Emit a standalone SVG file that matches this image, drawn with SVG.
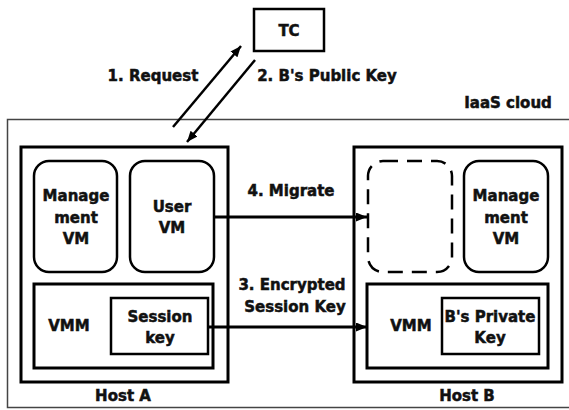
<svg xmlns="http://www.w3.org/2000/svg" width="569" height="410" viewBox="0 0 569 410">
<defs>
<marker id="ah" markerUnits="userSpaceOnUse" markerWidth="12" markerHeight="10" refX="11" refY="4.5" orient="auto">
<path d="M0,0 L11,4.5 L0,9 z" fill="#000"/>
</marker>
<style>
text{font-family:"DejaVu Sans","Liberation Sans",sans-serif;font-weight:bold;font-size:15px;fill:#111;stroke:#111;stroke-width:0.5;text-anchor:middle}
.box{fill:#fff;stroke:#000;stroke-width:3}
.thin{fill:#fff;stroke:#000;stroke-width:2.5}
.vm{fill:#fff;stroke:#000;stroke-width:2.5}
.dash{fill:none;stroke:#000;stroke-width:2.5;stroke-dasharray:15 9}
.conn{stroke:#000;stroke-width:3;fill:none;marker-end:url(#ah)}
.cn{stroke:#000;stroke-width:2.5;fill:none;marker-end:url(#ah)}
</style>
</defs>
<rect width="569" height="410" fill="#fff"/>
<g id="cloud">
<rect x="7.5" y="119.5" width="575" height="288" fill="none" stroke="#444" stroke-width="1.5"/>
<text x="508" y="108">IaaS cloud</text>
</g>
<g id="tc">
<rect x="254" y="9" width="70" height="42" class="thin"/>
<text x="289" y="36">TC</text>
</g>
<g id="hostA">
<rect x="21" y="147" width="207" height="235" class="box"/>
<text x="123" y="401">Host A</text>
</g>
<g id="mgmtA">
<rect x="34" y="161" width="83" height="111" rx="15" class="vm"/>
<text x="76" y="201">Manage</text>
<text x="76" y="223">ment</text>
<text x="76" y="244">VM</text>
</g>
<g id="userVM">
<rect x="130" y="161" width="84" height="111" rx="15" class="vm"/>
<text x="172" y="212">User</text>
<text x="172" y="233">VM</text>
</g>
<g id="vmmA">
<rect x="34" y="284" width="179" height="84" class="box"/>
<text x="69" y="331">VMM</text>
</g>
<g id="sessionKey">
<rect x="111" y="298" width="97" height="56" class="thin"/>
<text x="160" y="322">Session</text>
<text x="160" y="343">key</text>
</g>
<g id="hostB">
<rect x="354" y="147" width="208" height="235" class="box"/>
<text x="467" y="401">Host B</text>
</g>
<g id="migratedVM">
<rect x="368" y="161" width="84" height="111" rx="15" class="dash"/>
</g>
<g id="mgmtB">
<rect x="464" y="161" width="84" height="111" rx="15" class="vm"/>
<text x="506" y="201">Manage</text>
<text x="506" y="223">ment</text>
<text x="506" y="244">VM</text>
</g>
<g id="vmmB">
<rect x="367" y="284" width="181" height="84" class="box"/>
<text x="411" y="331">VMM</text>
</g>
<g id="privKey">
<rect x="442" y="298" width="97" height="56" class="thin"/>
<text x="490" y="322">B's Private</text>
<text x="490" y="343">Key</text>
</g>
<g id="connectors">
<line x1="173" y1="127" x2="241" y2="46" class="cn"/>
<line x1="255" y1="60" x2="187" y2="142" class="cn"/>
<line x1="214" y1="217" x2="367" y2="217" class="conn"/>
<line x1="208" y1="327" x2="367" y2="327" class="conn"/>
<text x="153" y="81">1. Request</text>
<text x="327" y="81">2. B's Public Key</text>
<text x="291" y="196">4. Migrate</text>
<text x="292" y="290">3. Encrypted</text>
<text x="295" y="312">Session Key</text>
</g>
</svg>
